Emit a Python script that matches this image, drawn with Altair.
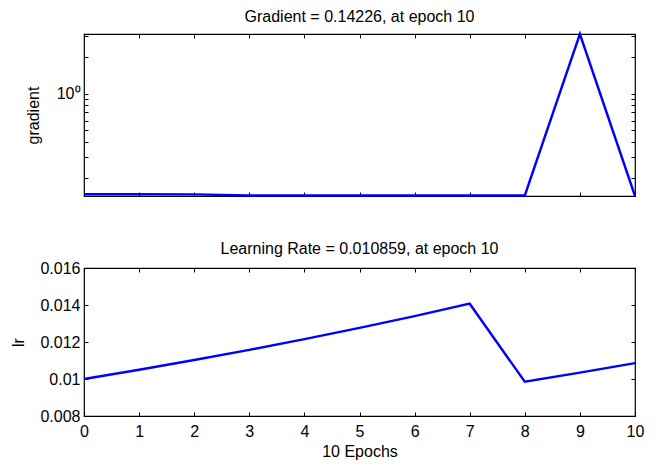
import altair as alt
import pandas as pd

# ---- data ----
epochs = [0, 1, 2, 3, 4, 5, 6, 7, 8, 9, 10]
gradient = [0.1470, 0.1470, 0.1468, 0.1437, 0.1436, 0.1436, 0.1436, 0.1436, 0.1436, 3.13, 0.14226]
lr = [0.0100, 0.0105, 0.011025, 0.011576, 0.012155, 0.012763, 0.013401, 0.014071, 0.009850, 0.010342, 0.010859]

x_ticks = [0, 1, 2, 3, 4, 5, 6, 7, 8, 9, 10]
grad_ticks = [0.2, 0.3, 0.4, 0.5, 0.6, 0.7, 0.8, 0.9, 1, 2, 3]
lr_ticks = [0.008, 0.010, 0.012, 0.014, 0.016]
grad_domain = [0.14226, 3.13]
lr_domain = [0.008, 0.016]

title_top = "Gradient = 0.14226, at epoch 10"
title_bottom = "Learning Rate = 0.010859, at epoch 10"
ytitle_top = "gradient"
ytitle_bottom = "lr"
xtitle = "10 Epochs"

FONT = "Liberation Sans"
BLUE = "#0000ff"
TICK = 4
FS = 16

df = pd.DataFrame({"epoch": epochs, "gradient": gradient, "lr": lr})


def ax(orient, values, labels=True, label_pad=4, **kw):
    return alt.Axis(
        orient=orient, values=values, labels=labels, ticks=True,
        tickSize=TICK, offset=-TICK, domain=False, grid=False,
        tickColor="black", tickWidth=1,
        labelFont=FONT, labelFontSize=FS, labelColor="black",
        labelPadding=label_pad, labelFlush=False, labelOverlap=False,
        titleFont=FONT, titleFontSize=FS, titleFontWeight="normal",
        titleColor="black", **kw)


xs = alt.Scale(domain=[0, 10], nice=False, zero=False)
ys_top = alt.Scale(type="log", domain=grad_domain, nice=False)
ys_bot = alt.Scale(domain=lr_domain, nice=False, zero=False)

base = alt.Chart(df)

top_line = base.mark_line(color=BLUE, strokeWidth=2.4).encode(
    x=alt.X("epoch:Q", scale=xs, axis=ax("bottom", x_ticks, labels=False, title=None)),
    y=alt.Y("gradient:Q", scale=ys_top,
            axis=ax("left", grad_ticks, title=ytitle_top, titlePadding=15,
                    labelExpr="datum.value == 1 ? '10⁰' : ''")),
)
top_mirror = base.mark_line(strokeOpacity=0).encode(
    x=alt.X("epoch:Q", scale=xs, axis=ax("top", x_ticks, labels=False, title=None)),
    y=alt.Y("gradient:Q", scale=ys_top, axis=ax("right", grad_ticks, labels=False, title=None)),
)
top = alt.layer(top_line, top_mirror).properties(
    width=551, height=162,
    title=alt.TitleParams(title_top, font=FONT, fontSize=FS, fontWeight="normal",
                          color="black", offset=3, anchor="middle"),
)

bot_line = base.mark_line(color=BLUE, strokeWidth=2.4).encode(
    x=alt.X("epoch:Q", scale=xs,
            axis=ax("bottom", x_ticks, label_pad=7, title=xtitle, titlePadding=4)),
    y=alt.Y("lr:Q", scale=ys_bot,
            axis=ax("left", lr_ticks, title=ytitle_bottom, titlePadding=13, format=".3~f")),
)
bot_mirror = base.mark_line(strokeOpacity=0).encode(
    x=alt.X("epoch:Q", scale=xs, axis=ax("top", x_ticks, labels=False, title=None)),
    y=alt.Y("lr:Q", scale=ys_bot, axis=ax("right", lr_ticks, labels=False, title=None)),
)
bottom = alt.layer(bot_line, bot_mirror).properties(
    width=551, height=148,
    title=alt.TitleParams(title_bottom, font=FONT, fontSize=FS, fontWeight="normal",
                          color="black", offset=3, anchor="middle"),
)

chart = alt.vconcat(top, bottom, spacing=38).properties(
    padding={"left": 10, "top": 8, "right": 5, "bottom": 2},
    background="white",
).configure_view(stroke="black", strokeWidth=1.2)

chart.save("out.html", embed_options={"renderer": "svg", "actions": False})
